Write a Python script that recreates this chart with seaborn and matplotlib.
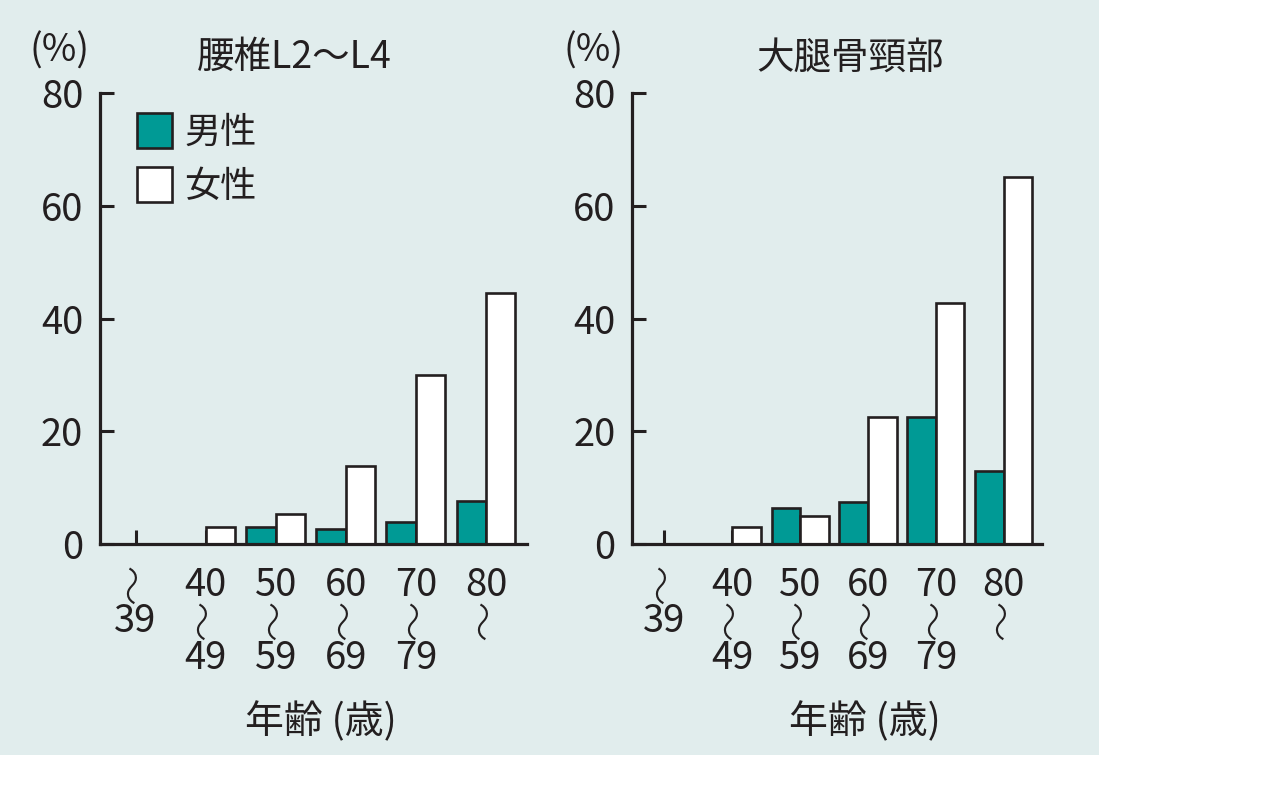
import matplotlib
matplotlib.use("Agg")
import matplotlib.pyplot as plt
import matplotlib.patches as mpatches
import seaborn as sns
import pandas as pd

# --- données ---
age_groups = ["〜\n39", "40\n〜\n49", "50\n〜\n59", "60\n〜\n69", "70\n〜\n79", "80\n〜"]
sexes = ["男性", "女性"]
lumbar_male = [0, 0, 3, 2.7, 3.9, 7.7]
lumbar_female = [0, 3, 5.3, 13.8, 29.9, 44.5]
femur_male = [0, 0, 6.4, 7.4, 22.5, 12.9]
femur_female = [0, 3, 4.9, 22.5, 42.8, 65.1]
panel_titles = ["腰椎L2〜L4", "大腿骨頸部"]
y_ticks = [0, 20, 40, 60, 80]

BG = "#e1eded"
TEAL = "#009a95"
INK = "#231f20"


def make_df(male, female):
    rows = []
    for i, g in enumerate(age_groups):
        rows.append({"age": g, "sex": sexes[0], "value": male[i]})
        rows.append({"age": g, "sex": sexes[1], "value": female[i]})
    return pd.DataFrame(rows)


sns.set_style("white")
plt.rcParams["font.family"] = ["Noto Sans CJK JP", "DejaVu Sans"]
plt.rcParams["text.color"] = INK

fig = plt.figure(figsize=(12.8, 7.89), dpi=100)
fig.patch.set_facecolor("white")
fig.patches.append(mpatches.Rectangle((0, 1 - 755 / 789), 1099 / 1280, 755 / 789,
                                      transform=fig.transFigure, facecolor=BG,
                                      edgecolor="none", zorder=-10))

ax1 = fig.add_axes([0.078, 0.3105, 0.334, 0.5716])
ax2 = fig.add_axes([0.494, 0.3105, 0.320, 0.5716])

panels = [
    (ax1, make_df(lumbar_male, lumbar_female), (-0.51, 5.59), panel_titles[0], 0.454, 0.518, True),
    (ax2, make_df(femur_male, femur_female), (-0.47, 5.56), panel_titles[1], 0.532, 0.568, False),
]

# hauteurs des lignes des étiquettes d'âge (fraction d'axe)
line_y = [-0.092, -0.172, -0.254]

for ax, df, xlim, title, tx, lx, show_leg in panels:
    sns.barplot(data=df, x="age", y="value", hue="sex", hue_order=sexes,
                palette={"男性": TEAL, "女性": "white"}, saturation=1,
                edgecolor=INK, linewidth=1.9, width=0.84, errorbar=None,
                legend=show_leg, ax=ax)
    ax.set_facecolor(BG)
    ax.set_axisbelow(True)  # les graduations x passent sous les barres
    ax.set_xlim(*xlim)
    ax.set_ylim(0, 80)
    ax.set_yticks(y_ticks)
    ax.set_xlabel("")
    ax.set_ylabel("")
    for s in ["top", "right"]:
        ax.spines[s].set_visible(False)
    for s in ["left", "bottom"]:
        ax.spines[s].set_color(INK)
        ax.spines[s].set_linewidth(2.3)
    ax.tick_params(axis="y", left=True, direction="in", length=10, width=2.2, color=INK,
                   labelsize=27.5, pad=12, labelcolor=INK)
    ax.tick_params(axis="x", bottom=True, direction="in", length=10, width=2.2, color=INK,
                   labelbottom=False)

    # étiquettes d'âge sur plusieurs lignes, le 〜 tourné à la verticale
    trans = ax.get_xaxis_transform()
    for i, lab in enumerate(age_groups):
        for j, part in enumerate(lab.split("\n")):
            if part == "〜":
                ax.text(i, line_y[j] + 0.004, part, transform=trans, ha="center", va="center",
                        fontsize=29, fontweight="light", rotation=90)
            else:
                ax.text(i, line_y[j], part, transform=trans, ha="center", va="center",
                        fontsize=27.5)

    ax.text(tx, 1.078, title, transform=ax.transAxes, ha="center", va="center", fontsize=27)
    ax.text(-0.094, 1.093, "(%)", transform=ax.transAxes, ha="center", va="center", fontsize=27)
    ax.text(lx, -0.395, "年齢 (歳)", transform=ax.transAxes, ha="center", va="center", fontsize=28)

    if show_leg:
        ax.legend(loc="upper left", bbox_to_anchor=(0.088, 0.955), frameon=False,
                  fontsize=26, handlelength=0.95, handleheight=1.1,
                  handletextpad=0.35, labelspacing=0.45, borderpad=0, borderaxespad=0)

fig.savefig("out.png", dpi=100, facecolor=fig.get_facecolor())
